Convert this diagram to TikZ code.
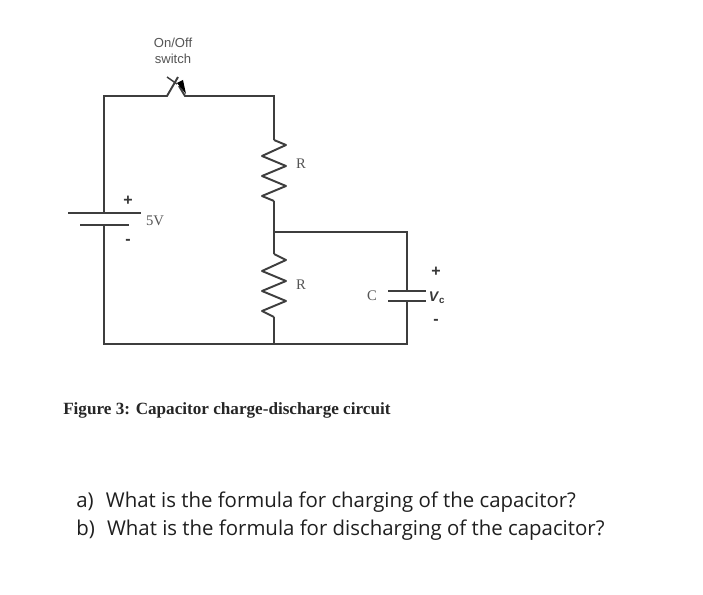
\documentclass[tikz,border=0pt]{standalone}
\usepackage{fontspec}
\setmainfont{Liberation Serif}
\newfontfamily\uifont{Open Sans}
\newfontfamily\labelfont{Liberation Sans}
\definecolor{wire}{RGB}{62,62,62}
\definecolor{inktext}{RGB}{55,55,55}
\definecolor{softtext}{RGB}{85,85,85}
\tikzset{
  wirepath/.style={draw=wire,line width=1.45pt,line join=miter},
  plate/.style={draw=wire,line width=1.35pt},
  resistorpath/.style={draw=wire,line width=1.45pt,line join=round},
  serifsmall/.style={inner sep=0pt,text=softtext,font=\fontsize{11}{12}\selectfont},
  signlabel/.style={inner sep=0pt,text=inktext,font=\labelfont\bfseries\fontsize{12}{13}\selectfont},
  switchlabel/.style={inner sep=0pt,text=softtext,font=\labelfont\fontsize{9.8}{11}\selectfont},
  questiontext/.style={inner sep=0pt,anchor=base west,text=black!88,font=\uifont\fontsize{15.3}{18}\selectfont},
  captiontext/.style={inner sep=0pt,anchor=base west,text=black!85,font=\bfseries\fontsize{12.85}{14}\selectfont},
}
\begin{document}
\begin{tikzpicture}[x=0.75pt,y=-0.75pt]
\useasboundingbox[fill=white] (0,0) rectangle (703,595);
\coordinate (battop) at (104,213);
\coordinate (batbot) at (104,225);
\coordinate (tl) at (104,96);
\coordinate (swl) at (167,96);
\coordinate (swr) at (185,96);
\coordinate (tr) at (274,96);
\coordinate (r1t) at (274,140);
\coordinate (r1b) at (274,201);
\coordinate (mid) at (274,232);
\coordinate (r2t) at (274,254);
\coordinate (r2b) at (274,317);
\coordinate (bot) at (274,344);
\coordinate (bl) at (104,344);
\coordinate (capt) at (407,232);
\coordinate (capa) at (407,291);
\coordinate (capb) at (407,301);
\coordinate (capbot) at (407,344);
% wires
\draw[wirepath] (battop) -- (tl) -- (swl) -- (178,77);
\draw[wirepath] (179,86) -- (swr) -- (tr) -- (r1t);
\draw[resistorpath] (r1t) -- (286,145) -- (262,156) -- (286,166) -- (262,176) -- (286,186) -- (262,196) -- (r1b);
\draw[wirepath] (r1b) -- (mid) -- (r2t);
\draw[resistorpath] (r2t) -- (286,260) -- (262,271) -- (286,281) -- (262,291) -- (286,301) -- (262,311) -- (r2b);
\draw[wirepath] (r2b) -- (bot);
\draw[wirepath] (batbot) -- (bl) -- (capbot) -- (capb);
\draw[wirepath] (mid) -- (capt) -- (capa);
% switch
\draw[wirepath,line width=1.1pt] (167,77) -- (177,84);
\fill[black] (177,83) -- (183,80) -- (186,94) -- cycle;
% battery
\draw[plate] (68,213) -- (141,213);
\draw[plate] (80,225) -- (129,225);
% capacitor
\draw[plate] (388,291) -- (426,291);
\draw[plate] (388,301) -- (426,301);
% labels
\node[switchlabel] (onoff) at (173,43) {On/Off};
\node[switchlabel] (swtxt) at (173,59) {switch};
\node[signlabel] (plusb) at (128,201) {+};
\node[signlabel] (minusb) at (128,242) {-};
\node[serifsmall] (fivev) at (155,221) {5V};
\node[serifsmall] (r1) at (301,164) {R};
\node[serifsmall] (r2) at (301,285) {R};
\node[serifsmall] (clab) at (372,296) {C};
\node[signlabel] (plusc) at (436,272) {+};
\node[signlabel] (minusc) at (436,322) {-};
\node[inner sep=0pt,text=inktext,font=\labelfont\bfseries\fontsize{10.5}{11}\selectfont] (vc) at (437,298) {\textit{V}\textsubscript{c}};
\node[captiontext] (cap) at (63,414) {Figure 3: Capacitor charge-discharge circuit};
\node[questiontext] (qa) at (76,507) {a)\hspace{0.6em}What is the formula for charging of the capacitor?};
\node[questiontext] (qb) at (76,535) {b)\hspace{0.6em}What is the formula for discharging of the capacitor?};
\end{tikzpicture}
\end{document}
